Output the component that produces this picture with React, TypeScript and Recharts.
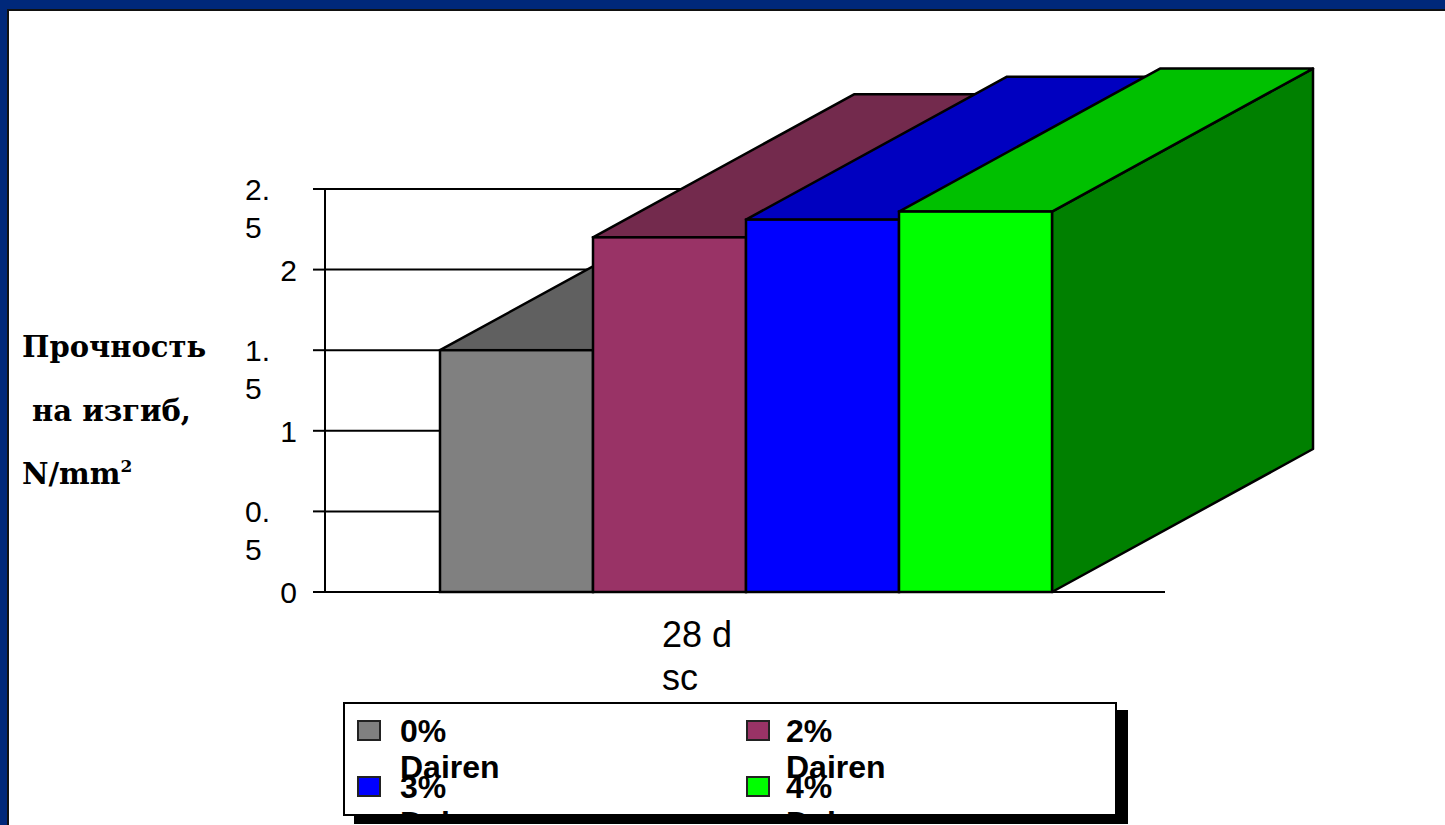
import React from 'react';
import { BarChart, Bar, XAxis, YAxis, CartesianGrid, Legend } from 'recharts';

// ---------- data ----------
const categories = ['28 d sc'];
const seriesNames = ['0% Dairen', '2% Dairen', '3% Dairen', '4% Dairen'];
const valuesDairen0 = [1.5];
const valuesDairen2 = [2.2];
const valuesDairen3 = [2.31];
const valuesDairen4 = [2.36];
const yTicks = [0, 0.5, 1, 1.5, 2, 2.5];
const yTickLabels = ['0', '0.5', '1', '1.5', '2', '2.5'];
const xTickLines = ['28 d', 'sc'];
const axisTitleLines = ['Прочность', ' на изгиб,', 'N/mm'];
const axisTitleSup = '2';

// ---------- style ----------
const frontColors = ['#808080', '#993366', '#0000FF', '#00FF00'];
const topColors = ['#606060', '#732A4D', '#0000C0', '#00C000'];
const sideColors = ['#404040', '#4D1A33', '#000080', '#008000'];
const DX = 261;
const DY = -143;
const SANS = '"Liberation Sans", Arial, Helvetica, sans-serif';
const SERIF = '"DejaVu Serif", "Liberation Serif", serif';

const seriesValues = [valuesDairen0, valuesDairen2, valuesDairen3, valuesDairen4];
const data = categories.map((c, i) => {
  const row: any = { category: c };
  seriesValues.forEach((vals, s) => {
    row['s' + s] = vals[i];
  });
  return row;
});

const makeShape = (idx: number) => (props: any) => {
  const { x, y, width, height } = props;
  if (width == null || height == null) return null;
  const b = y + height;
  const r = x + width;
  return (
    <g>
      <polygon
        points={`${r},${y} ${r + DX},${y + DY} ${r + DX},${b + DY} ${r},${b}`}
        fill={sideColors[idx]}
        stroke="#000"
        strokeWidth={2.5}
        strokeLinejoin="round"
      />
      <polygon
        points={`${x},${y} ${r},${y} ${r + DX},${y + DY} ${x + DX},${y + DY}`}
        fill={topColors[idx]}
        stroke="#000"
        strokeWidth={2.5}
        strokeLinejoin="round"
      />
      <rect x={x} y={y} width={width} height={height} fill={frontColors[idx]} stroke="#000" strokeWidth={2.5} />
    </g>
  );
};

const YTick = (props: any) => {
  const { x, y, index, payload } = props;
  const i = index != null ? index : yTicks.indexOf(payload.value);
  const label = yTickLabels[i] ?? String(payload.value);
  const dot = label.indexOf('.');
  if (dot >= 0) {
    return (
      <g>
        <text x={x - 66} y={y + 11} fontSize={30} fontFamily={SANS} fill="#000">
          {label.slice(0, dot + 1)}
        </text>
        <text x={x - 66} y={y + 49} fontSize={30} fontFamily={SANS} fill="#000">
          {label.slice(dot + 1)}
        </text>
      </g>
    );
  }
  return (
    <text x={x - 14} y={y + 11} textAnchor="end" fontSize={30} fontFamily={SANS} fill="#000">
      {label}
    </text>
  );
};

const XTick = (props: any) => {
  const { x, y } = props;
  return (
    <g>
      {xTickLines.map((line, i) => (
        <text key={i} x={x - 83} y={y + 55 + i * 43} fontSize={36} fontFamily={SANS} fill="#000">
          {line}
        </text>
      ))}
    </g>
  );
};

const AxisTitle = () => (
  <g>
    <text x={22} y={357} fontSize={29} fontWeight="bold" fontFamily={SERIF} fill="#000">
      {axisTitleLines[0]}
    </text>
    <text x={22} y={421} fontSize={29} fontWeight="bold" fontFamily={SERIF} fill="#000" xmlSpace="preserve">
      {axisTitleLines[1]}
    </text>
    <text x={22} y={484} fontSize={29} fontWeight="bold" fontFamily={SERIF} fill="#000">
      {axisTitleLines[2]}
      <tspan dy={-12} fontSize={17}>
        {axisTitleSup}
      </tspan>
    </text>
  </g>
);

const LegendContent = (props: any) => {
  const payload = props.payload || [];
  return (
    <div
      style={{
        position: 'relative',
        width: 774,
        height: 114,
        boxSizing: 'border-box',
        border: '2px solid #000',
        background: '#fff',
        boxShadow: '11px 8px 0 #000',
        overflow: 'hidden',
        fontFamily: SANS,
        fontWeight: 'bold',
        fontSize: 32,
        lineHeight: '36px',
        color: '#000',
      }}
    >
      {payload.map((entry: any, i: number) => {
        const col = i % 2;
        const row = Math.floor(i / 2);
        return (
          <React.Fragment key={i}>
            <div
              style={{
                position: 'absolute',
                left: 12 + col * 389,
                top: 16 + row * 56,
                width: 24,
                height: 21,
                boxSizing: 'border-box',
                border: '2px solid #222',
                background: entry.color,
              }}
            />
            <div
              style={{
                position: 'absolute',
                left: 55 + col * 386,
                top: 9 + row * 56,
                width: 120,
                whiteSpace: 'normal',
              }}
            >
              {entry.value}
            </div>
          </React.Fragment>
        );
      })}
    </div>
  );
};

export default function App() {
  return (
    <div
      style={{
        position: 'absolute',
        left: 0,
        top: 0,
        width: 1445,
        height: 825,
        overflow: 'hidden',
        background: '#00287A',
      }}
    >
      <div
        style={{
          position: 'absolute',
          left: 7,
          top: 9,
          right: 0,
          bottom: 0,
          background: '#fff',
          borderTop: '2px solid #111',
          borderLeft: '2px solid #111',
        }}
      />
      <div style={{ position: 'absolute', left: 0, top: 0 }}>
        <BarChart
          width={1445}
          height={825}
          data={data}
          margin={{ top: 189, right: 280, bottom: 133, left: 0 }}
          barCategoryGap={115}
          barGap={0}
        >
          <CartesianGrid horizontal vertical={false} stroke="#000" strokeWidth={2} />
          <XAxis
            dataKey="category"
            height={100}
            axisLine={{ stroke: '#000', strokeWidth: 2 }}
            tickLine={false}
            tickSize={0}
            tickMargin={0}
            tick={<XTick />}
            interval={0}
          />
          <YAxis
            width={325}
            domain={[0, 2.5]}
            ticks={yTicks}
            interval={0}
            axisLine={{ stroke: '#000', strokeWidth: 2 }}
            tickLine={{ stroke: '#000', strokeWidth: 2 }}
            tickSize={12}
            tickMargin={2}
            tick={<YTick />}
            label={{ content: <AxisTitle /> }}
          />
          <Legend
            layout="vertical"
            align="center"
            verticalAlign="middle"
            wrapperStyle={{ left: 343, top: 702, width: 774, height: 114 }}
            content={<LegendContent />}
          />
          {seriesNames.map((name, i) => (
            <Bar
              key={name}
              dataKey={'s' + i}
              name={name}
              fill={frontColors[i]}
              isAnimationActive={false}
              shape={makeShape(i)}
            />
          ))}
        </BarChart>
      </div>
    </div>
  );
}
